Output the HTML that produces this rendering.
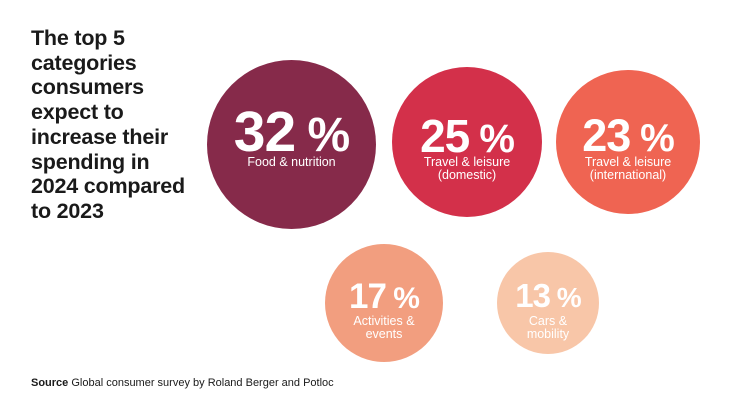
<!DOCTYPE html>
<html><head><meta charset="utf-8"><style>
html,body{margin:0;padding:0;background:#fff;}
body{width:746px;height:419px;position:relative;overflow:hidden;font-family:"Liberation Sans",sans-serif;}
.t{position:absolute;left:31px;top:26px;font-weight:bold;font-size:21.5px;line-height:24.7px;color:#1a1a1a;letter-spacing:-0.2px;}
.c{position:absolute;border-radius:50%;color:#fff;text-align:center;}
.c .n{position:absolute;left:0;right:0;font-weight:bold;white-space:nowrap;letter-spacing:-1px;}
.c .l{position:absolute;left:0;right:0;font-size:12.5px;line-height:13px;}
.src{position:absolute;left:31px;top:377px;font-size:11px;color:#1a1a1a;}
</style></head><body>
<div class="t">The top 5<br>categories<br>consumers<br>expect to<br>increase their<br>spending in<br>2024 compared<br>to 2023</div>

<div class="c" style="left:207px;top:60px;width:169px;height:169px;background:#862a4a;">
 <div class="n" style="top:39px;font-size:57px;">32<span style="font-size:48px"> %</span></div>
 <div class="l" style="top:96px;">Food &amp; nutrition</div>
</div>
<div class="c" style="left:392px;top:67px;width:150px;height:150px;background:#d3304a;">
 <div class="n" style="top:42px;font-size:46px;">25<span style="font-size:40px"> %</span></div>
 <div class="l" style="top:89px;">Travel &amp; leisure<br>(domestic)</div>
</div>
<div class="c" style="left:556px;top:70px;width:144px;height:144px;background:#ef6452;">
 <div class="n" style="top:40px;font-size:45px;">23<span style="font-size:39px"> %</span></div>
 <div class="l" style="top:86px;">Travel &amp; leisure<br>(international)</div>
</div>
<div class="c" style="left:325px;top:244px;width:118px;height:118px;background:#f29e7f;">
 <div class="n" style="top:33px;font-size:35px;">17<span style="font-size:30px"> %</span></div>
 <div class="l" style="top:71px;">Activities &amp;<br>events</div>
</div>
<div class="c" style="left:497px;top:252px;width:102px;height:102px;background:#f8c6a8;">
 <div class="n" style="top:25px;font-size:33px;">13<span style="font-size:28px"> %</span></div>
 <div class="l" style="top:63px;">Cars &amp;<br>mobility</div>
</div>

<div class="src"><b>Source</b> Global consumer survey by Roland Berger and Potloc</div>
</body></html>
